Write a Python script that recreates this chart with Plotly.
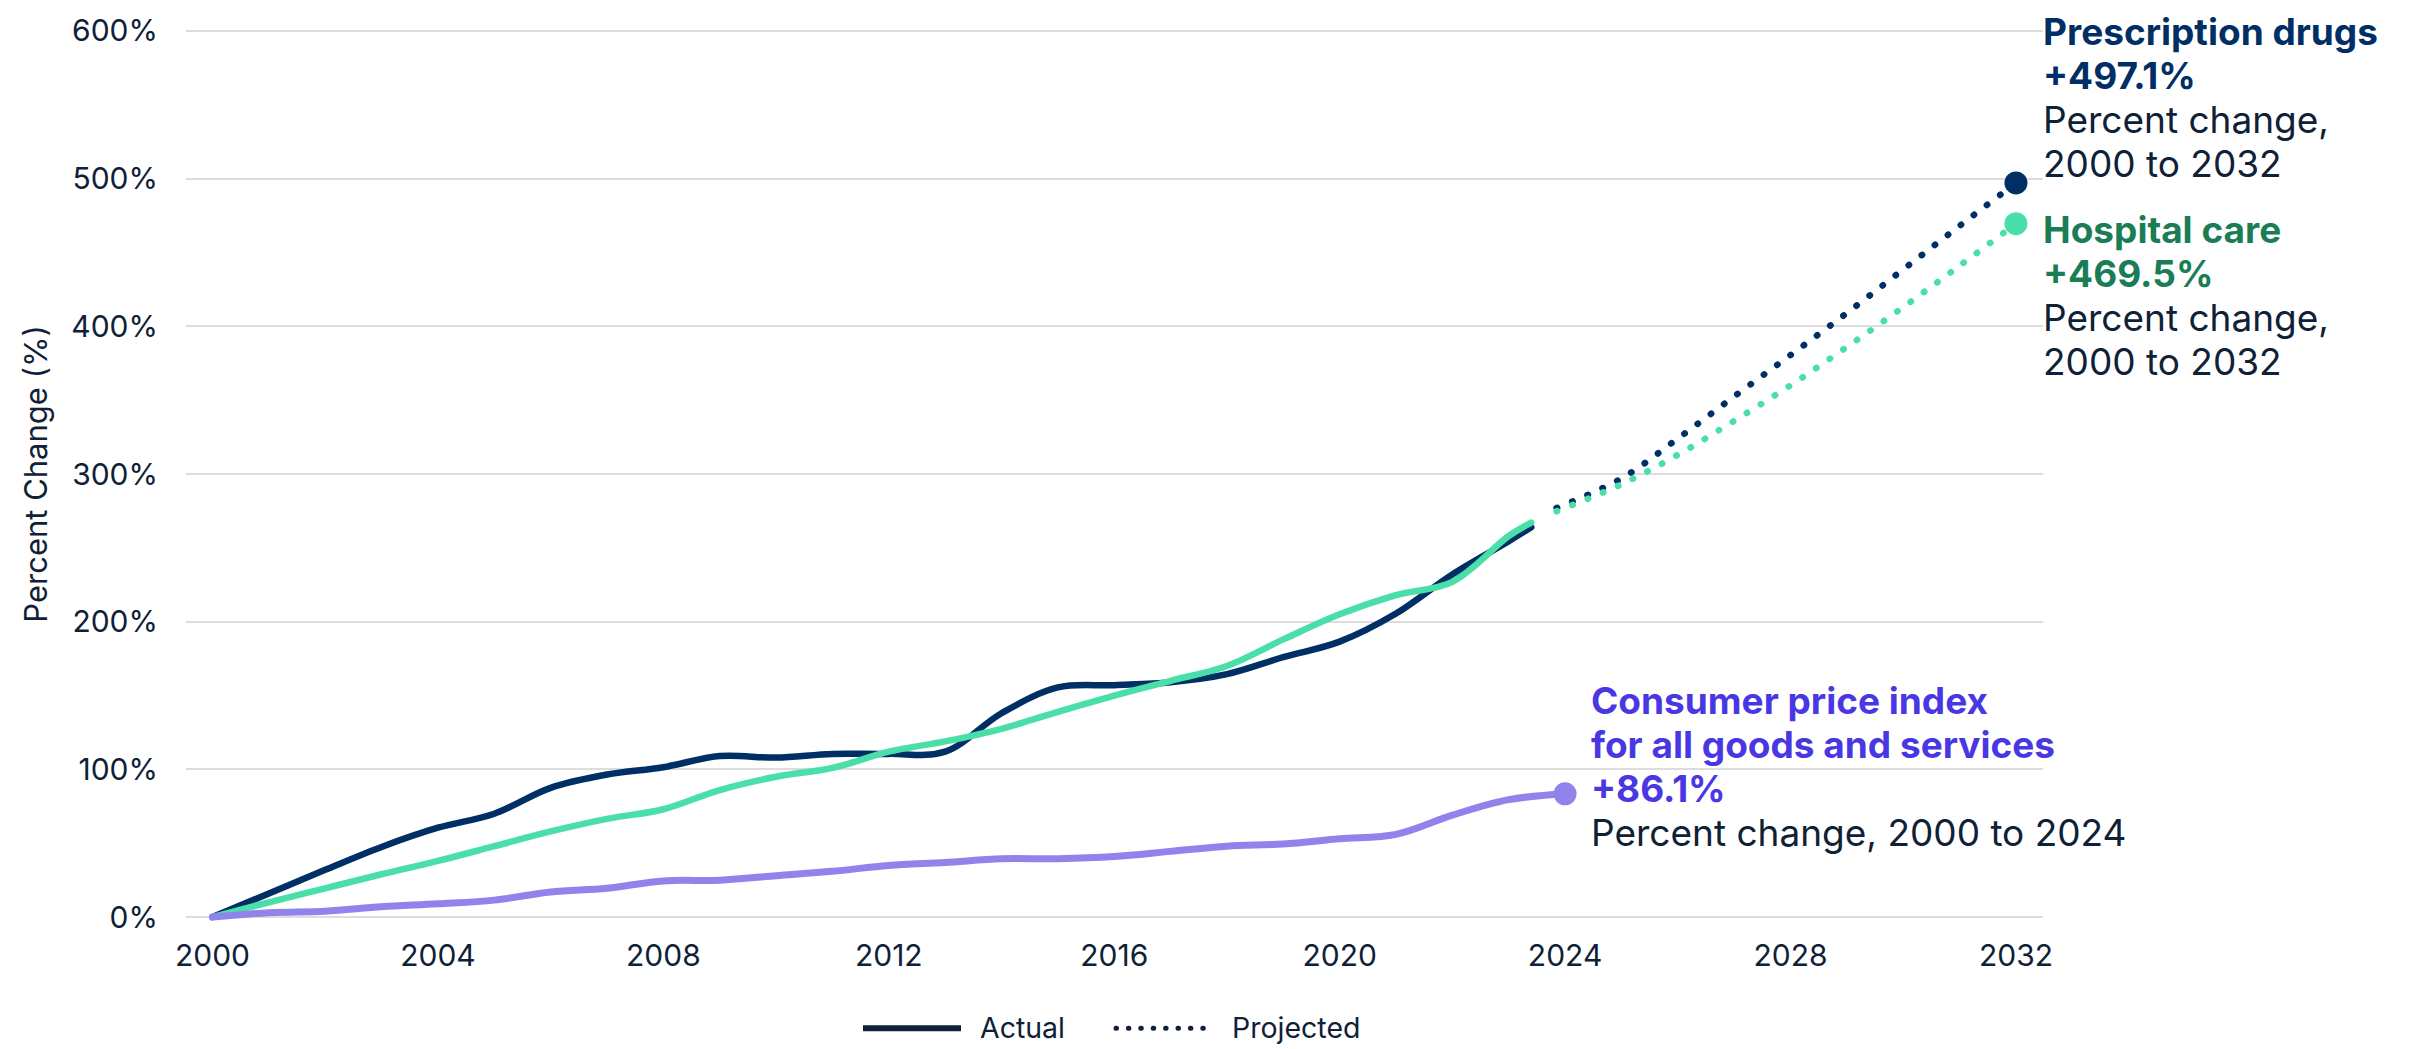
import plotly.graph_objects as go

# ---------------- data ----------------
actual_years = [2000, 2001, 2002, 2003, 2004, 2005, 2006, 2007, 2008, 2009, 2010, 2011,
                2012, 2013, 2014, 2015, 2016, 2017, 2018, 2019, 2020, 2021, 2022, 2023, 2023.4]
rx_actual = [0, 16, 32, 47.5, 60.5, 70, 87.5, 96.5, 101.5, 109, 108, 110.5,
             110.5, 112, 138, 155.5, 157, 159, 164.5, 176, 186.5, 205.5, 232, 254.5, 264]
hosp_actual = [0, 10, 19.5, 29, 38, 48, 58, 66.5, 73, 86, 95, 101,
               112, 119, 127.5, 139, 150, 160, 170, 188, 205, 218, 227, 258, 267]

cpi_years = [2000, 2001, 2002, 2003, 2004, 2005, 2006, 2007, 2008, 2009, 2010, 2011, 2012,
             2013, 2014, 2015, 2016, 2017, 2018, 2019, 2020, 2021, 2022, 2023, 2024]
cpi_values = [0, 3, 4, 7, 9, 11.5, 17, 19.5, 24.5, 25, 28, 31, 35,
              37, 39.5, 39.5, 41, 44.5, 48, 49.5, 53, 56, 69, 79.5, 83.5]

proj_years = [2023.85, 2025, 2026, 2027, 2028, 2029, 2030, 2031, 2032]
rx_proj = [277, 297, 324, 352.5, 380.5, 409, 438.5, 468, 497.1]
hosp_proj = [274.8, 293, 313, 336, 360, 386, 413, 441, 469.5]

x_tick_vals = [2000, 2004, 2008, 2012, 2016, 2020, 2024, 2028, 2032]
x_tick_text = ["2000", "2004", "2008", "2012", "2016", "2020", "2024", "2028", "2032"]
y_tick_vals = [0, 100, 200, 300, 400, 500, 600]
y_tick_text = ["0%", "100%", "200%", "300%", "400%", "500%", "600%"]

# ---------------- styles ----------------
NAVY = "#002F65"
GREEN = "#4ADEA8"
PURPLE = "#9084EC"
GREEN_TXT = "#1A7D56"
PURPLE_TXT = "#4A37E4"
DARK = "#0F2136"
GRID = "#DDDDDD"
FONT = "Inter"

W, H = 2414, 1049
# plot area in page pixels
L, R = 186, 2043
T, B = 22.6, 922.6
Y_RANGE = [-4, 604]
X_RANGE = [1999.53, 2032.48]


def px2paper(px):
    return (px - L) / (R - L)


def py2paper(py):
    return (B - py) / (B - T)


fig = go.Figure()

fig.add_trace(go.Scatter(x=actual_years, y=rx_actual, mode="lines",
                         line=dict(color=NAVY, width=6.5, shape="spline", smoothing=1),
                         showlegend=False, hoverinfo="skip"))
fig.add_trace(go.Scatter(x=actual_years, y=hosp_actual, mode="lines",
                         line=dict(color=GREEN, width=6.5, shape="spline", smoothing=1),
                         showlegend=False, hoverinfo="skip"))
fig.add_trace(go.Scatter(x=cpi_years, y=cpi_values, mode="lines",
                         line=dict(color=PURPLE, width=7, shape="spline", smoothing=1),
                         showlegend=False, hoverinfo="skip"))
fig.add_trace(go.Scatter(x=proj_years, y=rx_proj, mode="lines",
                         line=dict(color=NAVY, width=6.5, dash="6px,11px", shape="spline"),
                         showlegend=False, hoverinfo="skip"))
fig.add_trace(go.Scatter(x=proj_years, y=hosp_proj, mode="lines",
                         line=dict(color=GREEN, width=6.5, dash="6px,11px", shape="spline"),
                         showlegend=False, hoverinfo="skip"))

# end markers
fig.add_trace(go.Scatter(x=[proj_years[-1]], y=[rx_proj[-1]], mode="markers",
                         marker=dict(color=NAVY, size=23), showlegend=False, hoverinfo="skip"))
fig.add_trace(go.Scatter(x=[proj_years[-1]], y=[hosp_proj[-1]], mode="markers",
                         marker=dict(color=GREEN, size=23), showlegend=False, hoverinfo="skip"))
fig.add_trace(go.Scatter(x=[cpi_years[-1]], y=[cpi_values[-1]], mode="markers",
                         marker=dict(color=PURPLE, size=23), showlegend=False, hoverinfo="skip"))

ANN_SIZE = 37
SPACING = 44


def add_block(x, lines, first_baseline, xshift):
    for i, (txt, color, bold) in enumerate(lines):
        base = first_baseline + i * SPACING
        cy = base - 0.36 * ANN_SIZE
        fig.add_annotation(
            x=x, xref="x", y=py2paper(cy), yref="paper",
            xanchor="left", yanchor="middle", xshift=xshift, showarrow=False,
            text=("<b>%s</b>" % txt) if bold else txt,
            font=dict(family=FONT, size=ANN_SIZE, color=color),
        )


add_block(proj_years[-1], [
    ("Prescription drugs", NAVY, True),
    ("+497.1%", NAVY, True),
    ("Percent change,", DARK, False),
    ("2000 to 2032", DARK, False),
], 42.7, 25)

add_block(proj_years[-1], [
    ("Hospital care", GREEN_TXT, True),
    ("+469.5%", GREEN_TXT, True),
    ("Percent change,", DARK, False),
    ("2000 to 2032", DARK, False),
], 240.7, 25)

add_block(cpi_years[-1], [
    ("Consumer price index", PURPLE_TXT, True),
    ("for all goods and services", PURPLE_TXT, True),
    ("+86.1%", PURPLE_TXT, True),
    ("Percent change, 2000 to 2024", DARK, False),
], 713.3, 24)

# custom legend (Actual / Projected line styles)
LEG_Y = 1028
fig.add_shape(type="line", xref="paper", yref="paper",
              x0=px2paper(863), x1=px2paper(961), y0=py2paper(LEG_Y), y1=py2paper(LEG_Y),
              line=dict(color=DARK, width=6))
fig.add_shape(type="line", xref="paper", yref="paper",
              x0=px2paper(1116), x1=px2paper(1212), y0=py2paper(LEG_Y), y1=py2paper(LEG_Y),
              line=dict(color=DARK, width=5, dash="5px,7px"))
for txt, px in [("Actual", 978), ("Projected", 1230)]:
    fig.add_annotation(x=px2paper(px), xref="paper", y=py2paper(1027), yref="paper",
                       xanchor="left", yanchor="middle", showarrow=False, text=txt,
                       font=dict(family=FONT, size=28.5, color=DARK))

fig.update_layout(
    width=W, height=H, autosize=False,
    margin=dict(l=L, r=W - R, t=T, b=H - B, pad=0),
    paper_bgcolor="white", plot_bgcolor="white",
    font=dict(family=FONT, color=DARK),
    showlegend=False,
)
fig.update_xaxes(range=X_RANGE, tickvals=x_tick_vals, ticktext=x_tick_text,
                 showgrid=False, zeroline=False, showline=False, ticks="",
                 tickfont=dict(family=FONT, size=30, color=DARK), ticklabelstandoff=12)
fig.update_yaxes(range=Y_RANGE, tickvals=y_tick_vals, ticktext=y_tick_text,
                 showgrid=True, gridcolor=GRID, gridwidth=2, zeroline=False, showline=False, ticks="",
                 tickfont=dict(family=FONT, size=30, color=DARK), ticklabelstandoff=27,
                 title=dict(text="Percent Change (%)", standoff=14,
                            font=dict(family=FONT, size=31, color=DARK)))

post = """
document.documentElement.style.margin = '0';
document.documentElement.style.overflow = 'hidden';
document.body.style.margin = '0';
document.body.style.overflow = 'hidden';
var gd = document.getElementById('{plot_id}');
gd.querySelectorAll('path.js-line').forEach(function(p){
  p.style.strokeLinecap = 'round';
  p.style.strokeLinejoin = 'round';
  var d = p.style.strokeDasharray;
  if (d && d !== 'none' && d !== '') { p.style.strokeDasharray = '0.5px, 16px'; }
});
gd.querySelectorAll('.shapelayer path').forEach(function(p){
  var d = p.style.strokeDasharray;
  if (d && d !== 'none' && d !== '') { p.style.strokeLinecap = 'round'; p.style.strokeDasharray = '0.5px, 11.9px'; }
});
"""

fig.write_html("out.html", post_script=post, config={"displayModeBar": False})
